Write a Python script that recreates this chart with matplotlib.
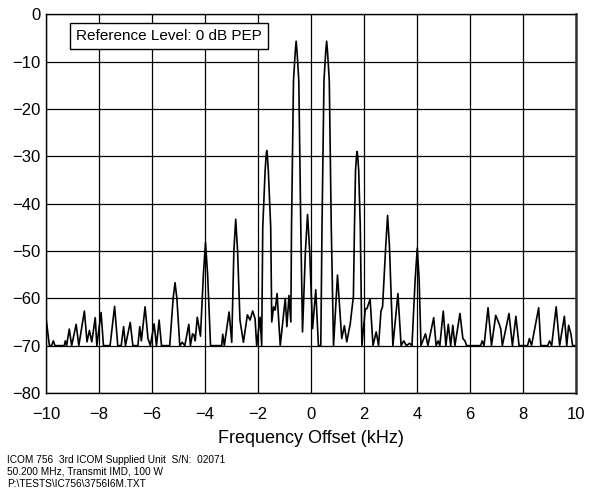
import matplotlib
matplotlib.use("Agg")
import matplotlib.pyplot as plt

plt.rcParams['font.family'] = ['Liberation Sans', 'DejaVu Sans']

# spectrum trace (kHz, dB)
freq = [-10.0, -9.87, -9.79, -9.72, -9.66, -9.31, -9.27, -9.22, -9.12, -9.03,
        -8.86, -8.76, -8.55, -8.45, -8.36, -8.27, -8.14, -8.08, -7.92, -7.83,
        -7.58, -7.41, -7.29, -7.16, -7.07, -7.00, -6.82, -6.72, -6.53, -6.46,
        -6.40, -6.26, -6.15, -6.06, -5.92, -5.83, -5.73, -5.64, -5.33, -5.20,
        -5.13, -5.06, -4.95, -4.86, -4.76, -4.61, -4.55, -4.47, -4.42, -4.37,
        -4.29, -4.17, -4.06, -3.98, -3.90, -3.79, -3.37, -3.33, -3.27, -3.09,
        -2.99, -2.91, -2.84, -2.77, -2.68, -2.55, -2.40, -2.30, -2.20, -2.11,
        -2.05, -1.92, -1.86, -1.82, -1.73, -1.69, -1.67, -1.65, -1.61, -1.52,
        -1.48, -1.41, -1.35, -1.28, -1.16, -0.97, -0.91, -0.83, -0.76, -0.735,
        -0.66, -0.595, -0.56, -0.525, -0.46, -0.385, -0.32, -0.21, -0.13, -0.05,
        0.06, 0.18, 0.28, 0.37, 0.415, 0.49, 0.555, 0.59, 0.625, 0.69,
        0.765, 0.85, 1.00, 1.16, 1.26, 1.35, 1.48, 1.60, 1.64, 1.68,
        1.72, 1.74, 1.76, 1.80, 1.86, 1.92, 2.05, 2.11, 2.23, 2.34,
        2.46, 2.55, 2.64, 2.70, 2.82, 2.89, 2.96, 3.09, 3.28, 3.40,
        3.50, 3.60, 3.72, 3.81, 3.93, 4.01, 4.08, 4.15, 4.32, 4.41,
        4.63, 4.72, 4.80, 4.86, 4.99, 5.09, 5.18, 5.27, 5.35, 5.43,
        5.62, 5.73, 5.81, 5.87, 6.40, 6.46, 6.53, 6.68, 6.81, 6.97,
        7.10, 7.16, 7.22, 7.47, 7.60, 7.73, 7.85, 8.17, 8.24, 8.32,
        8.59, 8.67, 8.93, 9.00, 9.08, 9.25, 9.38, 9.56, 9.65, 9.72,
        9.81, 9.87, 10.0]
level = [-64, -70, -70, -69, -70, -70, -69, -70, -66.5, -70,
         -65.5, -70, -62.7, -69.2, -66.8, -69.2, -64.1, -70, -63, -70,
         -70, -61.7, -70, -70, -66, -70, -65.1, -70, -70, -66,
         -69, -61.8, -68.5, -70, -65.4, -70, -64.6, -70, -70, -60,
         -56.7, -60, -70, -69.3, -70, -65.5, -70, -67.5, -67.7, -69,
         -64, -68, -55, -48.2, -55, -70, -70, -67.6, -70, -62.9,
         -69.3, -50, -43.3, -50, -64.6, -69.3, -63.5, -64.6, -62.7, -64.3,
         -70, -64, -70, -45, -33, -29.6, -28.8, -29.6, -33, -45,
         -65, -61.8, -62.5, -59, -70, -60, -66, -59.4, -65, -45,
         -14, -8, -5.7, -8, -14, -45, -67.1, -50, -42.3, -50,
         -66.4, -58.2, -70, -70, -45, -14, -8, -5.7, -8, -14,
         -45, -70, -55.1, -68.5, -65.8, -69.2, -65.4, -59.6, -45, -33,
         -29.8, -29, -29.8, -33, -45, -70, -62.2, -62.2, -60.2, -70,
         -67.1, -70, -62.7, -61.8, -49, -42.5, -49, -70, -59, -70,
         -69, -70, -69.5, -70, -56, -49.4, -56, -70, -67.5, -70,
         -64.1, -70, -69, -70, -62.7, -70, -65.5, -70, -65.7, -70,
         -63.2, -68.5, -69, -70, -70, -69, -70, -62, -70, -63.6,
         -65.4, -66.5, -70, -63.2, -70, -63.8, -70, -70, -68.5, -70,
         -62, -70, -70, -69, -70, -61.8, -70, -63.8, -70, -65.7,
         -67.6, -70, -70]

x_ticks = [-10, -8, -6, -4, -2, 0, 2, 4, 6, 8, 10]
y_ticks = [0, -10, -20, -30, -40, -50, -60, -70, -80]

fig = plt.figure(figsize=(5.89, 4.90), dpi=100)
ax = fig.add_axes([0.078, 0.198, 0.900, 0.773])

ax.plot(freq, level, color='black', linewidth=1.2)

ax.set_xlim(-10, 10)
ax.set_ylim(-80, 0)
ax.set_xticks(x_ticks)
ax.set_yticks(y_ticks)
ax.set_xticklabels(['\u2212%d' % -t if t < 0 else '%d' % t for t in x_ticks])
ax.set_yticklabels(['\u2212%d' % -t if t < 0 else '%d' % t for t in y_ticks])
ax.tick_params(length=0, labelsize=12, pad=4)
ax.tick_params(axis='x', pad=10)
ax.grid(True, color='black', linewidth=0.9)
for s in ax.spines.values():
    s.set_linewidth(1.0)
ax.spines['right'].set_linewidth(1.8)
ax.spines['right'].set_color('#333333')

ax.set_xlabel("Frequency Offset (kHz)", fontsize=13, labelpad=6)

ax.text(0.057, 0.942, "Reference Level: 0 dB PEP", transform=ax.transAxes,
        fontsize=11, va='center', ha='left',
        bbox=dict(boxstyle='square,pad=0.4', facecolor='white', edgecolor='black', linewidth=1.0))

footer = ["ICOM 756  3rd ICOM Supplied Unit  S/N:  02071",
          "50.200 MHz, Transmit IMD, 100 W",
          "P:\\TESTS\\IC756\\3756I6M.TXT"]
for i, line in enumerate(footer):
    fig.text(0.012, 0.062 - i * 0.025, line, fontsize=7.3, va='center', ha='left')

plt.savefig("out.png", dpi=100)
